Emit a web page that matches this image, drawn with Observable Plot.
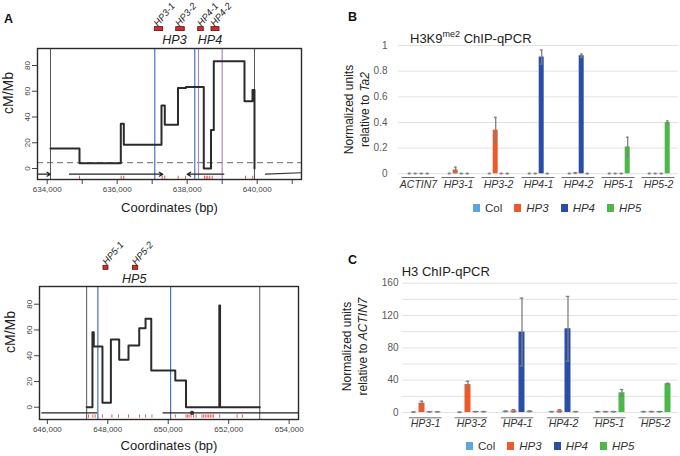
<!DOCTYPE html>
<html><head><meta charset="utf-8">
<script src="https://cdn.jsdelivr.net/npm/d3@7"></script>
<script src="https://cdn.jsdelivr.net/npm/@observablehq/plot@0.6"></script>
<style>
body{margin:0;background:#fff;font-family:"Liberation Sans",Arial,sans-serif;color:#222;}
#fig{position:relative;width:680px;height:456px;overflow:hidden;background:#fff;}
.abs{position:absolute;}
.letter{font-weight:bold;font-size:12.5px;line-height:12px;color:#111;}
.ptitle{font-size:13px;line-height:13px;white-space:nowrap;color:#222;}
.ptitle sup{font-size:9px;position:relative;top:-1px;}
.ytitle{font-size:12px;line-height:15.5px;text-align:center;transform:rotate(-90deg);white-space:nowrap;color:#222;}
.legend{display:flex;align-items:center;font-size:11.5px;line-height:12px;color:#333;white-space:nowrap;}
.legend .item{display:flex;align-items:center;margin-right:12px;}
.legend .sw{width:7px;height:8px;margin-right:5px;}
.bc [aria-label^="fx-axis"] text{font-style:italic;font-size:10.5px;fill:#333;}
</style></head><body><div id="fig"></div>
<script>
// ---------------- Panel A, upper region (HP3/HP4) ----------------
const topBreaks = [634094, 634923, 636103, 636189, 637266, 637360, 637737, 637966, 638474, 638680, 638760, 639637, 639866, 639923];
const topRates  = [15.5, 4, 34.7, 18.5, 48.9, 33.9, 62.6, 63.3, 0, 30, 83.3, 52.3, 61, 0];
const topEdges  = [634094, 639923];
const topBlue   = [637074, 638217];
const topPurple = [638323, 639000];
const topSnps   = [634923, 636114, 636189, 637286, 637360, 637743, 637951, 638494, 638543, 638589, 638646, 638714, 639666, 639874];
const topGeneStart = [633752, 634637, 639046];
const topGeneEnd   = [634094, 637303, 638000];
const topTailX = [640237, 641266];
const topTailY = [-4.4, -3.3];
const topPrimerNames = ["HP3-1", "HP3-2", "HP4-1", "HP4-2"];
const topPrimerStart = [637074, 637686, 638314, 638694];
const topPrimerEnd   = [637314, 637931, 638474, 638923];
const topLociNames = ["HP3", "HP4"];
const topLociPos   = [637637, 638651];
const topTicks = [634000, 635000, 636000, 637000, 638000, 639000, 640000, 641000];
const topTickLabels = ["634,000", "", "636,000", "", "638,000", "", "640,000", ""];
const topThreshold = [4.5];

// ---------------- Panel A, lower region (HP5) ----------------
const botBreaks = [647300, 647492, 647535, 647823, 648102, 648377, 648685, 649040, 649249, 649438, 650233, 650588, 651690, 651715, 653028];
const botRates  = [0, 58.3, 47.1, 3.4, 52.6, 36.8, 47.9, 61.4, 68.7, 28.5, 20.7, 0, 79, 0, 0];
const botEdges  = [647300, 653028];
const botBlue   = [647671, 650078];
const botSnps   = [647359, 647505, 647581, 647823, 648135, 648354, 648685, 649050, 649249, 649461, 650233, 650588, 650641, 650688, 650754, 650840, 650920, 651118, 651172, 651228, 651284, 651337, 651394, 651450, 651503, 651702, 652279, 652455];
const botGeneStart = [645815, 649826];
const botGeneEnd   = [647638, 654310];
const botPrimerNames = ["HP5-1", "HP5-2"];
const botPrimerStart = [647857, 648831];
const botPrimerEnd   = [648022, 649007];
const botLociNames = ["HP5"];
const botLociPos   = [648874];
const botTicks = [646000, 648000, 650000, 652000, 654000];
const botTickLabels = ["646,000", "648,000", "650,000", "652,000", "654,000"];

const rateTicks = [0, 20, 40, 60, 80];
const geneLevel = -4.4;
const primerLow = 106.7, primerHigh = 109.8, primerLabelLevel = 111.5, locusLevel = 99.8;

// ---------------- Panels B and C ----------------
const series = ["Col", "HP3", "HP4", "HP5"];
const seriesColors = ["#5ba6de", "#ec5a2c", "#2a4ea6", "#4cb848"];

const bGroups = ["ACTIN7", "HP3-1", "HP3-2", "HP4-1", "HP4-2", "HP5-1", "HP5-2"];
const bCol    = [0.002, 0.002, 0.002, 0.002, 0.002, 0.002, 0.002];
const bHP3    = [0.002, 0.03, 0.34, 0.002, 0.006, 0.002, 0.002];
const bHP4    = [0.002, 0.002, 0.002, 0.91, 0.92, 0.002, 0.002];
const bHP5    = [0.002, 0.002, 0.002, 0.002, 0.002, 0.21, 0.40];
const bColErr = [0.002, 0.002, 0.002, 0.002, 0.002, 0.002, 0.002];
const bHP3Err = [0.002, 0.022, 0.1, 0.002, 0.003, 0.002, 0.002];
const bHP4Err = [0.002, 0.002, 0.002, 0.055, 0.013, 0.002, 0.002];
const bHP5Err = [0.002, 0.002, 0.002, 0.002, 0.002, 0.075, 0.012];
const bTicks  = [0, 0.2, 0.4, 0.6, 0.8, 1];

const cGroups = ["HP3-1", "HP3-2", "HP4-1", "HP4-2", "HP5-1", "HP5-2"];
const cCol    = [0.5, 0.3, 1.5, 1.0, 1.0, 1.0];
const cHP3    = [11.5, 34.6, 2.0, 2.0, 1.0, 1.0];
const cHP4    = [0.8, 1.0, 99.5, 103.6, 1.0, 1.0];
const cHP5    = [0.8, 1.0, 1.5, 1.0, 24.4, 35.5];
const cColErr = [0.3, 0.3, 0.5, 0.3, 0.3, 0.3];
const cHP3Err = [2.5, 4.0, 1.5, 1.5, 0.3, 0.3];
const cHP4Err = [0.3, 0.3, 42, 40, 0.3, 0.3];
const cHP5Err = [0.3, 0.3, 0.5, 0.3, 4.0, 0.6];
const cTicks  = [0, 40, 80, 120, 160];
const cGrid   = [0, 20, 40, 60, 80, 100, 120, 140, 160];

// ---------- helpers to build tables ----------
const font = '"Liberation Sans", Arial, sans-serif';
function zip(keys, ...cols) { return cols[0].map((_, i) => Object.fromEntries(keys.map((k, j) => [k, cols[j][i]]))); }
function barRows(groups, vals, errs) {
  const rows = [];
  groups.forEach((g, i) => series.forEach((s, j) => rows.push({group: g, series: s, value: vals[j][i], err: errs[j][i]})));
  return rows;
}

function regionPlot(o) {
  const steps = zip(["x", "y"], o.breaks, o.rates);
  const genes = zip(["x1", "x2"], o.geneStart, o.geneEnd);
  const primers = zip(["name", "start", "end"], o.primerNames, o.primerStart, o.primerEnd);
  const loci = zip(["name", "pos"], o.lociNames, o.lociPos);
  const tickMap = new Map(o.ticks.map((t, i) => [t, o.tickLabels[i]]));
  const marks = [
    Plot.ruleY(o.threshold || [], {stroke: "#555", strokeDasharray: "6,4", strokeWidth: 0.9}),
    Plot.ruleX(o.edges, {stroke: "#555", strokeWidth: 1}),
    Plot.ruleX(o.blue, {stroke: "#4f72b8", strokeWidth: 1.2}),
    Plot.ruleX(o.purple || [], {stroke: "#a98cc6", strokeWidth: 1.2}),
    Plot.ruleX(o.snps, {y1: -6, y2: -8.5, stroke: "#e4463f", strokeWidth: 0.9}),
    Plot.arrow(genes, {x1: "x1", x2: "x2", y1: geneLevel, y2: geneLevel, stroke: "#222", strokeWidth: 1.2, headLength: o.heads ? 5 : 0}),
    Plot.line(steps, {x: "x", y: "y", curve: "step-after", stroke: "#2b2b2b", strokeWidth: 2}),
    Plot.rect(primers, {x1: "start", x2: "end", y1: primerLow, y2: primerHigh, fill: "#d62b2b", stroke: "#5a1414", strokeWidth: 0.8}),
    Plot.text(primers, {x: "start", y: primerLabelLevel, text: "name", rotate: -50, textAnchor: "start", fontStyle: "italic", fontSize: 9.5, fill: "#222", dx: 1}),
    Plot.text(loci, {x: "pos", y: locusLevel, text: "name", fontStyle: "italic", fontSize: 12.5, fill: "#222"}),
    Plot.text(["Coordinates (bp)"], {text: d => d, frameAnchor: "bottom", dy: o.titleDy, fontSize: 13, fill: "#222"}),
    Plot.text(["cM/Mb"], {text: d => d, frameAnchor: "left", dx: -29, rotate: -90, fontSize: 14, fill: "#222"}),
    Plot.frame({stroke: "#2a2a2a", strokeWidth: 1.4})
  ];
  if (o.tail) marks.push(Plot.line(zip(["x", "y"], o.tail[0], o.tail[1]), {x: "x", y: "y", stroke: "#333", strokeWidth: 1.2}));
  if (o.blob) marks.push(Plot.dot([o.blob], {x: d => d, y: geneLevel, r: 2.2, fill: "#333"}));
  return Plot.plot({
    width: 340, height: o.height,
    marginTop: o.mt, marginBottom: o.mb, marginLeft: o.ml, marginRight: o.mr,
    style: {fontFamily: font, fontSize: "8px", color: "#444", background: "transparent", overflow: "visible"},
    x: {domain: o.xdomain, ticks: o.ticks, tickFormat: d => tickMap.get(d), tickSize: 5, tickPadding: 2, label: null},
    y: {domain: o.ydomain, ticks: rateTicks, tickRotate: -90, tickSize: 5, tickPadding: 3, label: null},
    marks
  });
}

function barPlot(o) {
  const rows = barRows(o.groups, o.vals, o.errs);
  const lo = d => Math.max(0, d.value - d.err), hi = d => d.value + d.err;
  const svg = Plot.plot({
    width: 340, height: o.height,
    marginTop: o.mt, marginBottom: o.mb, marginLeft: o.ml, marginRight: o.mr,
    style: {fontFamily: font, fontSize: "10px", color: "#595959", background: "transparent", overflow: "visible"},
    fx: {domain: o.groups, padding: 0, label: null, tickSize: 0, tickPadding: o.fxPad, axis: "bottom"},
    x: {domain: series, paddingInner: o.pi, paddingOuter: o.po, axis: null},
    y: {domain: o.ydomain, ticks: o.ticks, tickFormat: d => String(d), tickSize: 0, tickPadding: o.yPad, label: null},
    color: {domain: series, range: seriesColors},
    marks: [
      Plot.ruleY(o.grid, {stroke: "#e2e2e2", strokeWidth: 1}),
      Plot.ruleY([0], {dy: o.lineDy, insetLeft: o.lineInset, insetRight: o.lineInset, stroke: "#6e6e6e", strokeWidth: 1}),
      Plot.barY(rows, {fx: "group", x: "series", y: "value", fill: "series"}),
      Plot.ruleX(rows, {fx: "group", x: "series", y1: lo, y2: hi, stroke: "#808080", strokeWidth: 1.3}),
      Plot.tickY(rows, {fx: "group", x: "series", y: hi, stroke: "#808080", strokeWidth: 1.3, inset: 1.2}),
      Plot.tickY(rows, {fx: "group", x: "series", y: lo, stroke: "#808080", strokeWidth: 1.3, inset: 1.2})
    ]
  });
  svg.classList.add("bc");
  return svg;
}

const fig = document.getElementById("fig");
function place(el, left, top) {
  const d = document.createElement("div");
  d.className = "abs"; d.style.left = left + "px"; d.style.top = top + "px";
  d.appendChild(el); fig.appendChild(d); return d;
}
function html(str, cls, left, top, extra) {
  const d = document.createElement("div");
  d.className = "abs " + (cls || ""); d.style.left = left + "px"; d.style.top = top + "px";
  if (extra) Object.assign(d.style, extra);
  d.innerHTML = str; fig.appendChild(d); return d;
}

place(regionPlot({
  height: 230, mt: 48, mb: 51, ml: 37, mr: 39,
  xdomain: [633723, 641266], ydomain: [-8.54, 93.2], threshold: topThreshold,
  breaks: topBreaks, rates: topRates, edges: topEdges, blue: topBlue, purple: topPurple, snps: topSnps,
  geneStart: topGeneStart, geneEnd: topGeneEnd, heads: true, tail: [topTailX, topTailY],
  primerNames: topPrimerNames, primerStart: topPrimerStart, primerEnd: topPrimerEnd,
  lociNames: topLociNames, lociPos: topLociPos, ticks: topTicks, tickLabels: topTickLabels, titleDy: 32
}), 0, 0);

place(regionPlot({
  height: 226, mt: 56, mb: 37, ml: 39, mr: 42,
  xdomain: [645740, 654310], ydomain: [-9.55, 93.75],
  breaks: botBreaks, rates: botRates, edges: botEdges, blue: botBlue, snps: botSnps,
  geneStart: botGeneStart, geneEnd: botGeneEnd, heads: false, blob: 650787,
  primerNames: botPrimerNames, primerStart: botPrimerStart, primerEnd: botPrimerEnd,
  lociNames: botLociNames, lociPos: botLociPos, ticks: botTicks, tickLabels: botTickLabels, titleDy: 30
}), 0, 230);

place(barPlot({
  height: 200, mt: 45, mb: 26.7, ml: 58.3, mr: 1.7,
  groups: bGroups, vals: [bCol, bHP3, bHP4, bHP5], errs: [bColErr, bHP3Err, bHP4Err, bHP5Err],
  ydomain: [0, 1], ticks: bTicks, grid: bTicks, pi: 0.15, po: 1.1, fxPad: 7, yPad: 11, lineDy: 3.7, lineInset: 3.5
}), 340, 0);

place(barPlot({
  height: 226, mt: 52.7, mb: 44, ml: 60.5, mr: 0.5,
  groups: cGroups, vals: [cCol, cHP3, cHP4, cHP5], errs: [cColErr, cHP3Err, cHP4Err, cHP5Err],
  ydomain: [0, 160], ticks: cTicks, grid: cGrid, pi: 0.27, po: 0.97, fxPad: 7, yPad: 4, lineDy: 5.3, lineInset: 6.75
}), 340, 230);

// letters, titles, y titles, legends
html("A", "letter", 4, 13);
html("B", "letter", 348, 11);
html("C", "letter", 348, 254);
html("H3K9<sup>me2</sup> ChIP-qPCR", "ptitle", 410, 28.5);
html("H3 ChIP-qPCR", "ptitle", 401.7, 265);
html("Normalized units<br>relative to <i>Ta2</i>", "ytitle", 357 - 60, 109.5 - 15.5, {width: "120px"});
html("Normalized units<br>relative to <i>ACTIN7</i>", "ytitle", 355 - 60, 346.7 - 15.5, {width: "120px"});

function legend(left, top) {
  const items = series.map((s, i) =>
    `<div class="item"><div class="sw" style="background:${seriesColors[i]}"></div><span style="${s === "Col" ? "" : "font-style:italic"}">${s}</span></div>`).join("");
  html(items, "legend", left, top);
}
legend(473, 202);
legend(466, 440);
</script></body></html>
